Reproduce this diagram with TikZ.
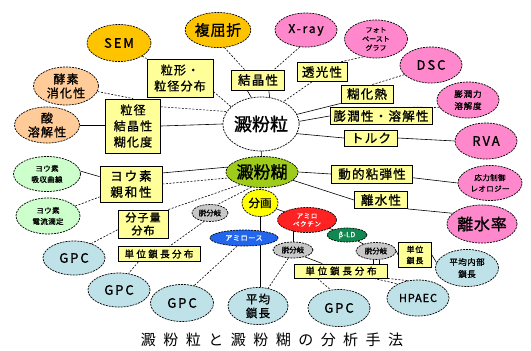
\documentclass[tikz,border=0pt]{standalone}
\usepackage{fontspec}
\setmainfont{Noto Sans CJK JP}[FakeBold=1.2]
\newfontfamily\capfont{Noto Sans CJK JP}
\usetikzlibrary{shapes.geometric,backgrounds,calc}
\definecolor{gold}{HTML}{FFC400}
\definecolor{pinkc}{HTML}{FF88CC}
\definecolor{peach}{HTML}{FFCC99}
\definecolor{lgreen}{HTML}{CCFFCC}
\definecolor{lblue}{HTML}{BFE2E8}
\definecolor{boxy}{HTML}{FFFF99}
\definecolor{noric}{HTML}{9FCC1A}
\definecolor{grayc}{HTML}{C8C8C8}
\definecolor{redc}{HTML}{FF2222}
\definecolor{bluec}{HTML}{2266EE}
\definecolor{greenc}{HTML}{118850}
\definecolor{yelc}{HTML}{FFFF00}
\newcommand\myfs[2]{\fontsize{#1}{#2}\selectfont}
\newcommand\lsp[1]{\addfontfeature{LetterSpace=#1}}
\begin{document}
\begin{tikzpicture}[x=1pt,y=-1pt,
  ell/.style={ellipse, draw, line width=0.7pt, dash pattern=on 2pt off 1pt, inner sep=0pt, align=center},
  box/.style={rectangle, draw, line width=0.9pt, fill=boxy, inner sep=0pt, align=center, font=\myfs{12.5}{15}\lsp{10}},
  ln/.style={line width=0.6pt},
  dln/.style={line width=0.6pt, dash pattern=on 2pt off 1.5pt}]
\useasboundingbox (0,0) rectangle (531,351);

% ---- outer ellipses ----
\node[ell, fill=gold, minimum width=64, minimum height=37, font=\myfs{13}{14}\lsp{15}] (sem) at (119,43) {SEM};
\node[ell, fill=gold, minimum width=63, minimum height=35, font=\myfs{15}{16}\lsp{5}] (fuku) at (218,30) {複屈折};
\node[ell, fill=pinkc, minimum width=62, minimum height=34, font=\myfs{12}{13}\lsp{15}] (xray) at (306,30) {X-ray};
\node[ell, fill=pinkc, minimum width=63, minimum height=38, font=\myfs{7}{9}] (photo) at (376,39) {フォト\\ペースト\\グラフ};
\node[ell, fill=pinkc, minimum width=62, minimum height=36, font=\myfs{13}{14}\lsp{15}] (dsc) at (431,65) {DSC};
\node[ell, fill=pinkc, minimum width=62, minimum height=36, font=\myfs{8.5}{12}\lsp{10}] (bojun) at (468,100) {膨潤力\\溶解度};
\node[ell, fill=pinkc, minimum width=62, minimum height=36, font=\myfs{13}{14}\lsp{15}] (rva) at (486,141) {RVA};
\node[ell, fill=pinkc, minimum width=64, minimum height=35, font=\myfs{7.5}{11}\lsp{5}] (rheo) at (490,183) {応力制御\\レオロジー};
\node[ell, fill=pinkc, minimum width=64, minimum height=38, font=\myfs{16}{17}\lsp{5}] (risuiritsu) at (482,224) {離水率};

\node[ell, fill=peach, minimum width=65, minimum height=38, font=\myfs{12}{14}\lsp{10}] (koso) at (66,86) {酵素\\消化性};
\node[ell, fill=peach, minimum width=65, minimum height=36, font=\myfs{12}{14}\lsp{10}] (san) at (47,125) {酸\\溶解性};
\node[ell, fill=lgreen, minimum width=67, minimum height=35, font=\myfs{7.5}{11}\lsp{5}] (ky) at (47,174) {ヨウ素\\吸収曲線};
\node[ell, fill=lgreen, minimum width=64, minimum height=36, font=\myfs{7.5}{11}\lsp{5}] (dr) at (48,216) {ヨウ素\\電流滴定};

\node[ell, fill=lblue, minimum width=62, minimum height=34, font=\myfs{13}{14}\lsp{15}] (gpc1) at (74,258) {GPC};
\node[ell, fill=lblue, minimum width=62, minimum height=34, font=\myfs{13}{14}\lsp{15}] (gpc2) at (119,290) {GPC};
\node[ell, fill=lblue, minimum width=63, minimum height=37, font=\myfs{13}{14}\lsp{15}] (gpc3) at (182,303) {GPC};
\node[ell, fill=lblue, minimum width=60, minimum height=37, font=\myfs{11.5}{14}\lsp{10}] (heikin) at (258,306) {平均\\鎖長};
\node[ell, fill=lblue, minimum width=62, minimum height=37, font=\myfs{13}{14}\lsp{15}] (gpc4) at (339,308) {GPC};
\node[ell, fill=lblue, minimum width=62, minimum height=36, font=\myfs{11}{12}\lsp{8}] (hpaec) at (418,298) {HPAEC};
\node[ell, fill=lblue, minimum width=63, minimum height=37, font=\myfs{8.5}{12}\lsp{5}] (naibu) at (467,268) {平均内部\\鎖長};

% ---- center ----
\node[ell, fill=white, minimum width=62, minimum height=54, font=\myfs{18}{19}] (ryu) at (261,124) {澱粉粒};
\node[ell, fill=noric, minimum width=70, minimum height=31, font=\myfs{17}{18}] (nori) at (262,172) {澱粉糊};
\node[ell, fill=yelc, minimum width=36, minimum height=27, font=\myfs{11.5}{12}] (bunkaku) at (260,203) {分画};
\node[ell, fill=bluec, text=white, minimum width=68, minimum height=16, font=\myfs{7}{8}\lsp{10}] (amylose) at (244,238) {アミロース};
\node[ell, fill=redc, text=white, minimum width=59, minimum height=25, font=\myfs{6.5}{8}\lsp{10}] (amylopectin) at (307,220) {アミロ\\ペクチン};
\node[ell, fill=greenc, text=white, minimum width=40, minimum height=14, font=\myfs{7}{8}\lsp{5}] (betald) at (347,235) {β-LD};
\node[ell, fill=grayc, minimum width=36, minimum height=17, font=\myfs{7.5}{8}] (dbl) at (210,213) {脱分岐};
\node[ell, fill=grayc, minimum width=40, minimum height=16, font=\myfs{7.5}{8}] (dbm) at (293,250) {脱分岐};
\node[ell, fill=grayc, minimum width=40, minimum height=17, font=\myfs{7.5}{8}] (dbr) at (376,251) {脱分岐};

% ---- boxes ----
\node[box, minimum width=66, minimum height=38, font=\myfs{12}{16}\lsp{10}] (ryukei) at (180,78) {粒形・\\粒径分布};
\node[box, minimum width=53, minimum height=20] (kessho) at (258,80) {結晶性};
\node[box, minimum width=50, minimum height=19] (toko) at (322,72) {透光性};
\node[box, minimum width=52, minimum height=18] (kokanetsu) at (367,94) {糊化熱};
\node[box, minimum width=102, minimum height=17] (bojunsei) at (381,116) {膨潤性・溶解性};
\node[box, minimum width=53, minimum height=16] (toruku) at (371,138) {トルク};
\node[box, minimum width=81, minimum height=18] (doteki) at (372,174) {動的粘弾性};
\node[box, minimum width=53, minimum height=17] (risuisei) at (381,200) {離水性};
\node[box, minimum width=55, minimum height=54, font=\myfs{12}{16}\lsp{10}] (ryukei2) at (133,126) {粒径\\結晶性\\糊化度};
\node[box, minimum width=62, minimum height=36, font=\myfs{12.5}{16}\lsp{15}] (youso) at (131,184) {ヨウ素\\親和性};
\node[box, minimum width=50, minimum height=28, font=\myfs{11}{13}\lsp{10}] (bunshi) at (143,224) {分子量\\分布};
\node[box, minimum width=82, minimum height=15, font=\myfs{9.5}{10}\lsp{25}] (tlc1) at (159,254) {単位鎖長分布};
\node[box, minimum width=93, minimum height=14, font=\myfs{9.5}{10}\lsp{30}] (tlc2) at (341,271) {単位鎖長分布};
\node[box, minimum width=33, minimum height=25, font=\myfs{8}{11}\lsp{10}] (tlc3) at (415,255) {単位\\鎖長};

% ---- caption ----
\node[font=\capfont\myfs{15}{16}\lsp{50}] (cap) at (272,340) {澱粉粒と澱粉糊の分析手法};

% ---- connectors ----
\begin{pgfonlayer}{background}
\draw[dln] (sem) -- (ryukei.north west);
\draw[dln] (fuku.-70) -- ($(kessho.north west)!0.25!(kessho.north east)$);
\draw[dln] (xray.-110) -- ($(kessho.north west)!0.8!(kessho.north east)$);
\draw[dln] (photo.-125) -- ($(toko.north west)!0.85!(toko.north east)$);
\draw[dln] (dsc.200) -- ($(kokanetsu.north west)!0.6!(kokanetsu.north east)$);
\draw[dln] (bojun.195) -- ($(bojunsei.north west)!0.8!(bojunsei.north east)$);
\draw[ln] (rva.180) -- (toruku.east);
\draw[ln] (rheo.180) -- ($(doteki.north east)!0.7!(doteki.south east)$);
\draw[ln] (risuiritsu.160) -- (risuisei.south east);
\draw[dln] (koso.-10) -- ($(ryukei2.north west)!0.5!(ryukei2.north east)$);
\draw[ln] (san.0) -- (ryukei2.west |- san.0);
\draw[ln] (ky.5) -- ($(youso.north west)!0.3!(youso.south west)$);
\draw[dln] (dr.20) -- ($(youso.north west)!0.85!(youso.south west)$);
\draw[dln] ($(bunshi.north west)!0.7!(bunshi.south west)$) -- (gpc1.40);

\draw[dln] ($(ryukei.north east)!0.85!(ryukei.south east)$) -- (ryu.150);
\draw[ln] ($(kessho.south west)!0.3!(kessho.south east)$) -- (ryu.110);
\draw[ln] ($(kessho.south west)!0.7!(kessho.south east)$) -- (ryu.72);
\draw[dln] ($(toko.south west)!0.3!(toko.south east)$) -- (ryu.45);
\draw[ln] (kokanetsu.south west) -- (ryu.15);
\draw[ln] (bojunsei.west) -- (ryu.4);
\draw[ln] (toruku.west) -- (ryu.-15);
\draw[ln] (ryukei2.east) -- (ryu.180);
\draw[dln] ($(ryukei2.north east)!0.15!(ryukei2.south east)$) -- (ryu.160);
\draw[ln] (ryu.center) -- (nori.center);
\draw[ln] ($(youso.north east)!0.2!(youso.south east)$) -- (nori.172);
\draw[dln] ($(youso.north east)!0.5!(youso.south east)$) -- (nori.190);
\draw[dln] (bunshi.north east) -- (nori.210);
\draw[ln] (nori.0) -- (doteki.west);
\draw[ln] (nori.-15) -- (risuisei.west);
\draw[ln] (nori.center) -- (bunkaku.center);
\draw[dln] (nori.-125) -- (dbl.50);
\draw[ln] (bunkaku.center) -- (bunkaku.center |- heikin.north);
\draw[ln] (bunkaku.center) -- (amylopectin.center);
\draw[dln] (amylose.-130) -- (gpc3.55);
\draw[dln] (dbl.-125) -- ($(tlc1.north west)!0.63!(tlc1.north east)$);
\draw[dln] ($(tlc1.south west)!0.25!(tlc1.south east)$) -- (gpc2.60);
\draw[ln] (dbm.center) -- (dbm.center |- amylopectin.center);
\draw[ln] (amylopectin.center) -- (betald.center);
\draw[ln] (betald.center) -- (dbr.center);
\draw[ln] (dbm.-30) -- ($(tlc2.north west)!0.3!(tlc2.north east)$);
\draw[ln] (dbr.-110) -- (dbr.-110 |- tlc2.north);
\draw[ln] (dbr.-70) -- (dbr.-70 |- tlc2.north);
\draw[ln] (dbr.east) -- (tlc3.west);
\draw[ln] (tlc3.east) -- (naibu.170);
\draw[dln] (dbm.-120) -- (heikin.60);
\draw[dln] ($(tlc2.south west)!0.25!(tlc2.south east)$) -- (gpc4.115);
\draw[dln] ($(tlc2.south west)!0.85!(tlc2.south east)$) -- (hpaec.145);
\draw[dln] (tlc2.south east) -- (hpaec.120);
\end{pgfonlayer}
\end{tikzpicture}
\end{document}
